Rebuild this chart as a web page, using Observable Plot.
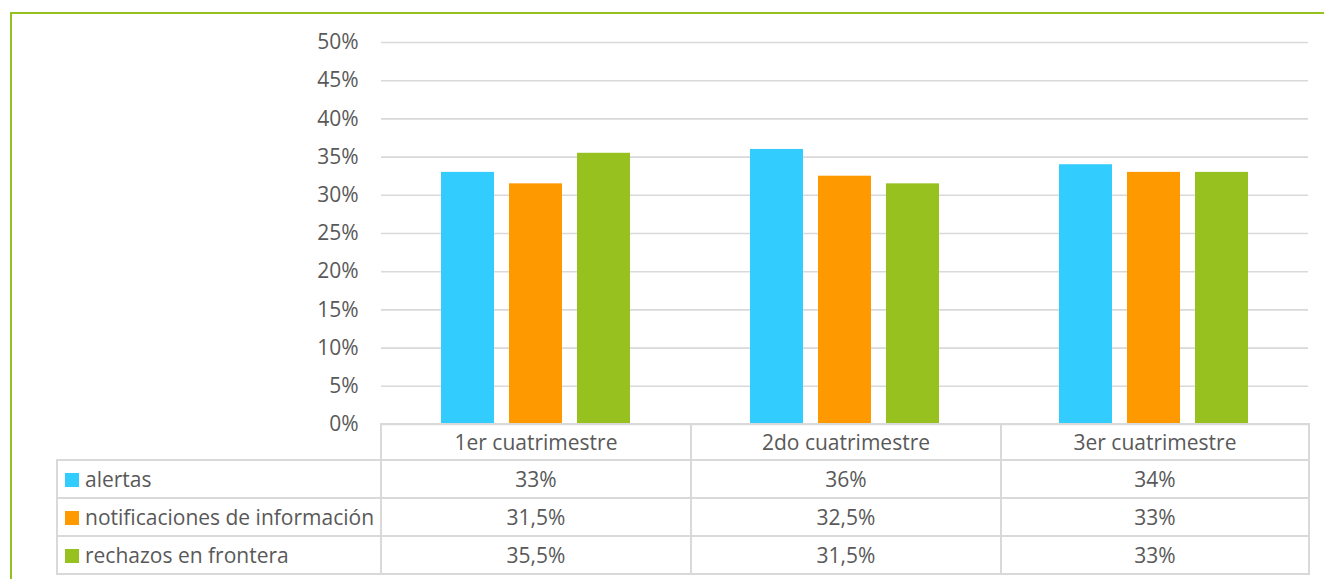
<!DOCTYPE html>
<html>
<head>
<meta charset="utf-8">
<script src="https://cdn.jsdelivr.net/npm/d3@7"></script>
<script src="https://cdn.jsdelivr.net/npm/@observablehq/plot@0.6"></script>
<style>
  html, body { margin: 0; padding: 0; background: #fff; }
  #wrap { position: relative; width: 1324px; height: 579px; overflow: hidden; font-family: "Open Sans", sans-serif; color: #595959; }
  #frame { position: absolute; left: 10px; top: 12px; width: 1400px; height: 700px; border-left: 2px solid #95C11F; border-top: 2px solid #95C11F; }
  #chart { position: absolute; left: 0; top: 0; }
  table.dt { position: absolute; left: 56px; top: 423px; border-collapse: collapse; font-size: 21px; color: #595959; table-layout: fixed; }
  table.dt td { border: 2px solid #d9d9d9; padding: 0; text-align: center; white-space: nowrap; overflow: hidden; line-height: 1; }
  table.dt tr.hdr td { height: 34px; }
  table.dt tr.row td { height: 36px; }
  table.dt td.lab { text-align: left; padding-left: 7px; }
  table.dt tr.hdr td.blank { border-top: none; border-left: none; }
  .sw { display: inline-block; width: 14px; height: 14px; margin-right: 6px; vertical-align: 0px; }
</style>
</head>
<body>
<div id="wrap"><div id="frame"></div><div id="chart"></div></div>
<script>
const categories = ["1er cuatrimestre", "2do cuatrimestre", "3er cuatrimestre"];
const seriesNames = ["alertas", "notificaciones de información", "rechazos en frontera"];
const seriesColors = ["#33CCFF", "#FF9900", "#96C11F"];
const alertas = [33, 36, 34];
const notificaciones = [31.5, 32.5, 33];
const rechazos = [35.5, 31.5, 33];
const yTicks = [0, 5, 10, 15, 20, 25, 30, 35, 40, 45, 50];

const seriesValues = [alertas, notificaciones, rechazos];
const data = [];
seriesNames.forEach((s, i) => categories.forEach((c, j) => data.push({category: c, series: s, value: seriesValues[i][j] / 100})));

const chart = Plot.plot({
  width: 1324,
  height: 579,
  marginLeft: 380,
  marginRight: 16,
  marginTop: 42,
  marginBottom: 155,
  style: {fontFamily: "'Open Sans', sans-serif", fontSize: "21px", color: "#595959", background: "transparent"},
  fx: {domain: categories, padding: 0, axis: null},
  x: {domain: seriesNames, padding: 0.219, paddingOuter: 0.872, axis: null},
  y: {domain: [0, 0.5]},
  color: {domain: seriesNames, range: seriesColors},
  marks: [
    Plot.gridY(yTicks.map(d => d / 100), {stroke: "#d9d9d9", strokeOpacity: 1, strokeWidth: 1.6}),
    Plot.barY(data, {fx: "category", x: "series", y: "value", fill: "series"}),
    Plot.axisY(yTicks.map(d => d / 100), {tickSize: 0, tickPadding: 23, tickFormat: d => Math.round(d * 100) + "%", label: null, fill: "#595959", fontSize: 21})
  ]
});
document.getElementById("chart").appendChild(chart);

// data table below the chart
const fmt = v => String(v).replace(".", ",") + "%";
const colW = [324, 310, 310, 308];
let html = '<table class="dt"><colgroup>' + colW.map(w => `<col style="width:${w}px">`).join("") + '</colgroup>';
html += '<tr class="hdr"><td class="blank"></td>' + categories.map(c => `<td>${c}</td>`).join("") + '</tr>';
seriesNames.forEach((s, i) => {
  html += `<tr class="row"><td class="lab"><span class="sw" style="background:${seriesColors[i]}"></span>${s}</td>` +
    seriesValues[i].map(v => `<td>${fmt(v)}</td>`).join("") + '</tr>';
});
html += '</table>';
document.getElementById("wrap").insertAdjacentHTML("beforeend", html);
</script>
</body>
</html>
